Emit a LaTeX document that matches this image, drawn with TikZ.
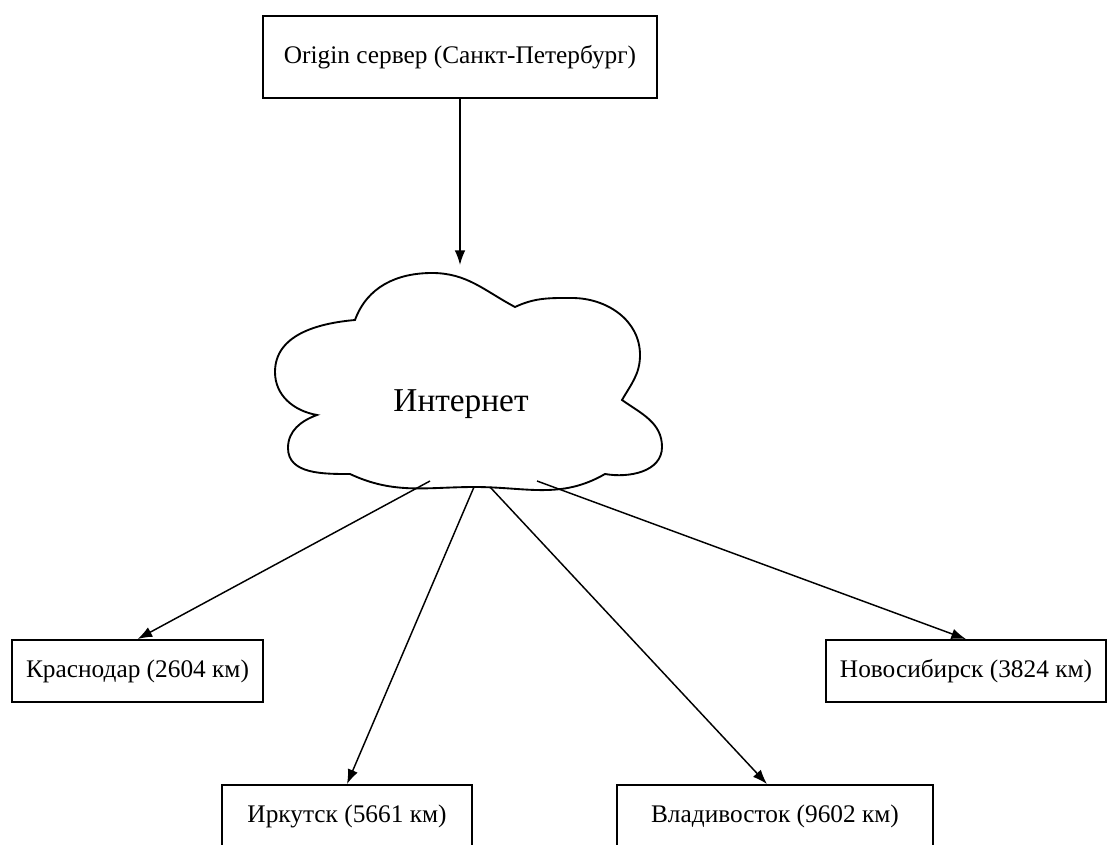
\documentclass[tikz,border=0pt]{standalone}
\usepackage{fontspec}
\setmainfont{Liberation Serif}
\usetikzlibrary{arrows.meta}
\tikzset{
  box/.style={draw,line width=1.4pt,minimum height=46.5pt,font=\fontsize{19}{22}\selectfont,inner sep=0pt},
  link/.style={line width=1.1pt,-{Latex[length=11pt,width=8pt]}}
}
\begin{document}
\begin{tikzpicture}[x=0.75pt,y=0.75pt]
                    \useasboundingbox (0,0) rectangle (1109,-845);
                    % servers
                    \node[box,minimum width=295.5pt,minimum height=62pt] (origin) at (460,-57) {Origin сервер (Санкт-Петербург)};
                    \node[box,minimum width=188.25pt] (krasnodar) at (137.5,-671) {Краснодар (2604 км)};
                    \node[box,minimum width=210pt] (novosib) at (966,-671) {Новосибирск (3824 км)};
                    \node[box,minimum width=187.5pt] (irkutsk) at (347,-816) {Иркутск (5661 км)};
                    \node[box,minimum width=237pt] (vladik) at (775,-816) {Владивосток (9602 км)};
                    % cloud
                    \draw[line width=1.4pt] (355,-320) to[out=70,in=180] (432,-273) to[out=0,in=152] (515,-307)
                        to[out=25,in=180] (572,-298) to[out=0,in=90] (640,-355) to[out=-90,in=60] (622,-400)
                        to[out=-35,in=90] (662,-447) to[out=-90,in=-10] (605,-474)
                        to[out=-150,in=0] (475,-487) to[out=180,in=-25] (350,-474)
                        to[out=180,in=-90] (288,-448) to[out=90,in=-160] (317,-415)
                        to[out=170,in=-90] (275,-372) to[out=90,in=185] (355,-320) -- cycle;
                    \node[font=\fontsize{25}{30}\selectfont] (inet) at (461,-404) {Интернет};
                    \coordinate (intop) at (460,-265);
                    \coordinate (outk) at (430,-481);
                    \coordinate (outi) at (474,-487);
                    \coordinate (outv) at (490,-487);
                    \coordinate (outn) at (537,-481);
                    % links
                    \draw[link] (origin.south -| intop) -- (intop);
                    \draw[link] (outk) -- (krasnodar.north);
                    \draw[link] (outi) -- (irkutsk.north);
                    \draw[link] (outv) -- ([xshift=-6pt]vladik.north);
                    \draw[link] (outn) -- (novosib.north);
                \end{tikzpicture}
\end{document}
